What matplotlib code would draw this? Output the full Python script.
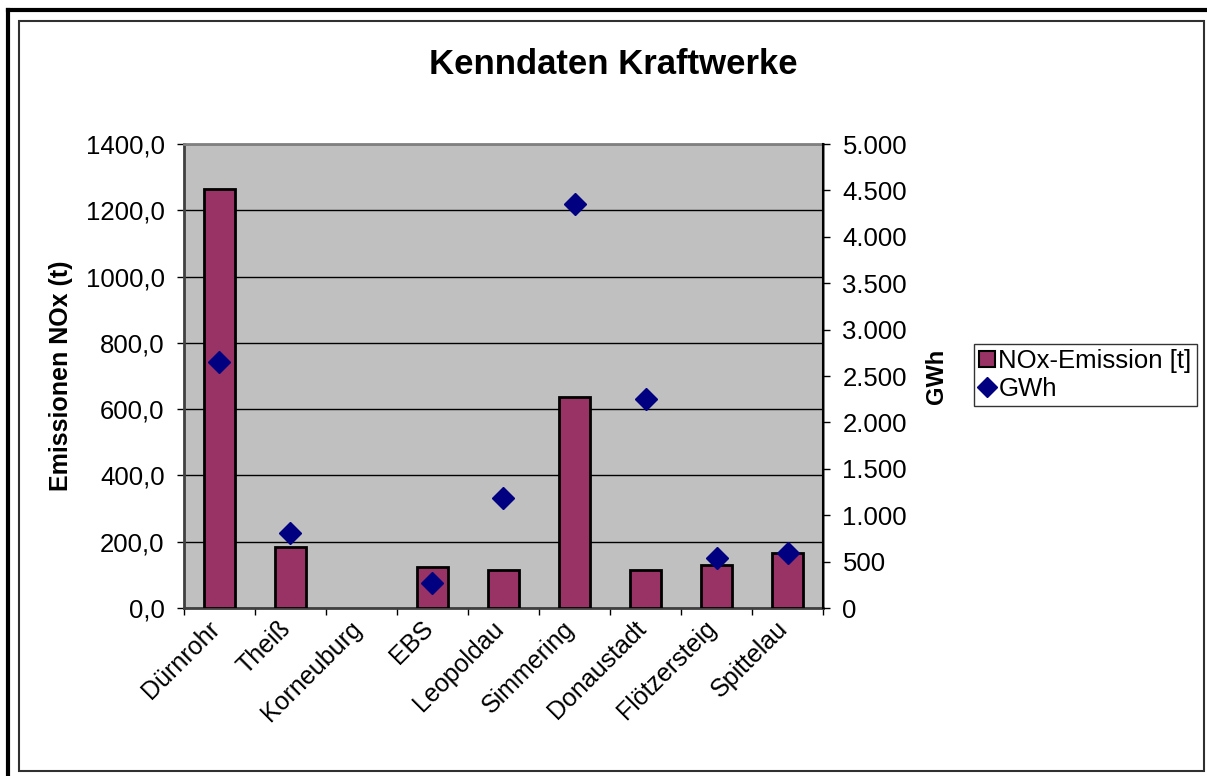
import numpy as np
import matplotlib
matplotlib.use("Agg")
import matplotlib.pyplot as plt
from matplotlib.patches import Rectangle
from matplotlib.lines import Line2D
from matplotlib.transforms import ScaledTranslation
from matplotlib.ticker import FuncFormatter, MultipleLocator, FixedLocator

plt.rcParams["font.family"] = ["Liberation Sans", "DejaVu Sans"]

plants = ["Dürnrohr", "Theiß", "Korneuburg", "EBS", "Leopoldau",
          "Simmering", "Donaustadt", "Flötzersteig", "Spittelau"]
nox = [1265, 184, np.nan, 124, 115, 637, 115, 130, 166]
gwh = [2651, 808, np.nan, 269, 1185, 4353, 2252, 539, 593]

W, H = 1207, 776
fig = plt.figure(figsize=(W / 100, H / 100), dpi=100)

ax = fig.add_axes([184 / W, 1 - 608 / H, (823 - 184) / W, (608 - 144) / H])
ax.set_facecolor("#C0C0C0")

x = np.arange(len(plants))
ax.bar(x, nox, width=0.44, color="#993366", edgecolor="black",
       linewidth=2, zorder=3)

ax.set_xlim(-0.5, len(plants) - 0.5)
ax.set_ylim(0, 1400)
ax.yaxis.set_major_locator(MultipleLocator(200))
ax.yaxis.set_major_formatter(FuncFormatter(lambda v, p: f"{v:.1f}".replace(".", ",")))
ax.grid(axis="y", color="black", linewidth=1, zorder=1)
ax.set_axisbelow(True)

ax.set_xticks(x)
ax.set_xticklabels(plants, rotation=45, ha="right", va="top",
                   rotation_mode="anchor", fontsize=18)
ax.tick_params(axis="x", which="major", length=0, pad=6)
shift = ScaledTranslation(-12 / 100, 0, fig.dpi_scale_trans)
for lab in ax.get_xticklabels():
    lab.set_transform(lab.get_transform() + shift)
ax.xaxis.set_minor_locator(FixedLocator(np.arange(-0.5, len(plants), 1.0)))
ax.tick_params(axis="x", which="minor", length=5, width=1, direction="out")
ax.tick_params(axis="y", labelsize=18.5, length=5, width=1, direction="out", pad=9)
ax.set_ylabel("Emissionen NOx (t)", fontsize=18, fontweight="bold")
ax.yaxis.set_label_coords(-0.174, 0.5)

for side in ["top", "right"]:
    ax.spines[side].set_color("#808080")
    ax.spines[side].set_linewidth(2)
ax.spines["left"].set_color("#404040")
ax.spines["left"].set_linewidth(2)
ax.spines["bottom"].set_color("#404040")
ax.spines["bottom"].set_linewidth(2)

ax2 = ax.twinx()
ax2.plot(x, gwh, linestyle="none", marker="D", markersize=11.5,
         color="#000080", zorder=5)
ax2.set_ylim(0, 5000)
ax2.yaxis.set_major_locator(MultipleLocator(500))
ax2.yaxis.set_major_formatter(FuncFormatter(lambda v, p: f"{int(v):,}".replace(",", ".")))
ax2.tick_params(axis="y", labelsize=18.5, length=5, width=1, direction="out", pad=9)
ax2.set_ylabel("GWh", fontsize=17, fontweight="bold")
ax2.yaxis.set_label_coords(1.16, 0.5)
ax2.spines["right"].set_color("black")
ax2.spines["right"].set_linewidth(1.5)
for side in ["top", "left", "bottom"]:
    ax2.spines[side].set_visible(False)

fig.text(613 / W, 1 - 64 / H, "Kenndaten Kraftwerke", ha="center", va="center",
         fontsize=25, fontweight="bold")

handles = [
    Rectangle((0, 0), 1, 1, facecolor="#993366", edgecolor="black", linewidth=1.5),
    Line2D([], [], linestyle="none", marker="D", markersize=10, color="#000080"),
]
leg = fig.legend(handles, ["NOx-Emission [t]", "GWh"], loc="upper left",
                 bbox_to_anchor=(974 / W, 1 - 344 / H), fontsize=18.5,
                 frameon=True, fancybox=False, edgecolor="black",
                 handlelength=0.6, handleheight=0.6, handletextpad=0.15,
                 borderpad=0.2, labelspacing=0.15, borderaxespad=0)
leg.get_frame().set_linewidth(1)

# chart border
fig.add_artist(Line2D([8 / W, 8 / W], [0, 1 - 10 / H], color="black", linewidth=3,
                      transform=fig.transFigure))
fig.add_artist(Line2D([8 / W, 1], [1 - 10 / H, 1 - 10 / H], color="black", linewidth=3,
                      transform=fig.transFigure))
fig.add_artist(Rectangle((19 / W, 1 - 771 / H), (1204 - 19) / W, (771 - 21) / H,
                         fill=False, edgecolor="#303030", linewidth=1.5,
                         transform=fig.transFigure))

fig.savefig("out.png", dpi=100)
